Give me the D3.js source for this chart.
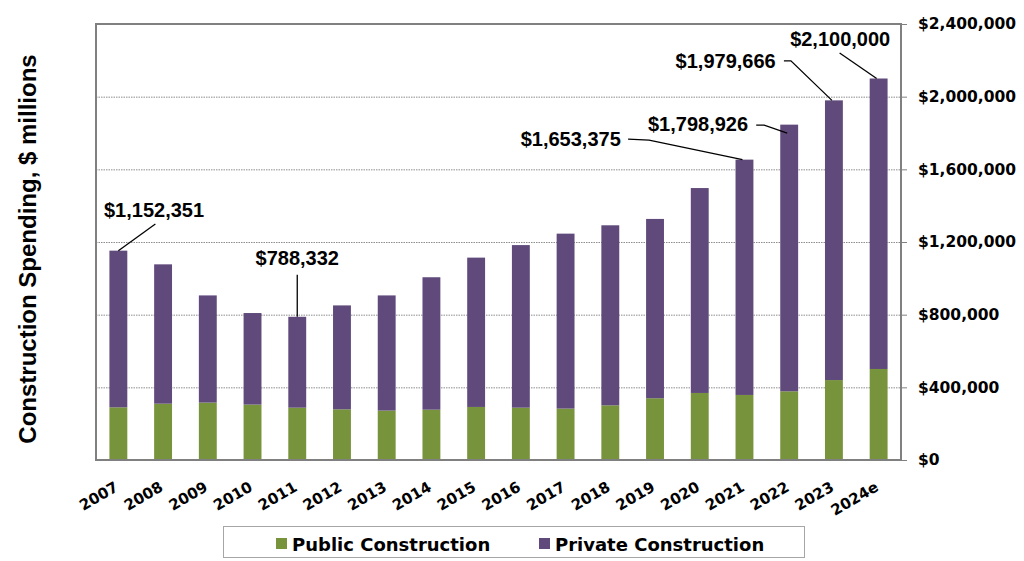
<!DOCTYPE html>
<html>
<head>
<meta charset="utf-8">
<script src="https://cdn.jsdelivr.net/npm/d3@7/dist/d3.min.js"></script>
<style>
  html, body { margin: 0; padding: 0; background: #fff; }
  svg { display: block; }
</style>
</head>
<body>
<svg id="chart" width="1024" height="561"></svg>
<script>
// ---- data ----
const categories = ["2007","2008","2009","2010","2011","2012","2013","2014","2015","2016","2017","2018","2019","2020","2021","2022","2023","2024e"];
const publicValues = [290000, 310000, 316000, 305000, 288000, 279000, 272000, 277000, 292000, 288000, 283000, 301000, 340000, 369000, 358000, 378000, 440000, 501000];
const totalValues  = [1152351, 1077000, 906000, 809000, 788332, 851000, 906000, 1006000, 1114000, 1183000, 1246000, 1292000, 1327000, 1497000, 1653375, 1846000, 1979666, 2100000];
const privateValues = totalValues.map((t, i) => t - publicValues[i]);
const yTicks = [0, 400000, 800000, 1200000, 1600000, 2000000, 2400000];
const seriesNames = ["Public Construction", "Private Construction"];
const annotatedYears = ["2007", "2011", "2021", "2022", "2023", "2024e"];
const annotatedValues = [1152351, 788332, 1653375, 1798926, 1979666, 2100000];

// ---- layout / style ----
const colors = { pub: "#77933C", priv: "#604A7B" };
const plot = { left: 96, right: 901, top: 24, bottom: 460 };
const svg = d3.select("#chart");

const x = d3.scaleBand().domain(categories).range([plot.left, plot.right]).paddingInner(0.6).paddingOuter(0.3);
const y = d3.scaleLinear().domain([0, 2400000]).range([plot.bottom, plot.top]);

// gridlines
svg.append("g").selectAll("line").data(yTicks.filter(d => d > 0 && d < 2400000)).join("line")
  .attr("x1", plot.left).attr("x2", plot.right)
  .attr("y1", d => y(d) + 0.5).attr("y2", d => y(d) + 0.5)
  .attr("stroke", "#8c8c8c").attr("stroke-width", 1).attr("stroke-dasharray", "1.5,1");

// bars
const bars = svg.append("g");
bars.selectAll("rect.pub").data(categories).join("rect").attr("class", "pub")
  .attr("x", d => x(d)).attr("width", x.bandwidth())
  .attr("y", (d, i) => y(publicValues[i])).attr("height", (d, i) => y(0) - y(publicValues[i]))
  .attr("fill", colors.pub);
bars.selectAll("rect.priv").data(categories).join("rect").attr("class", "priv")
  .attr("x", d => x(d)).attr("width", x.bandwidth())
  .attr("y", (d, i) => y(publicValues[i] + privateValues[i])).attr("height", (d, i) => y(publicValues[i]) - y(publicValues[i] + privateValues[i]))
  .attr("fill", colors.priv);

// plot border
svg.append("rect").attr("x", plot.left).attr("y", plot.top)
  .attr("width", plot.right - plot.left).attr("height", plot.bottom - plot.top)
  .attr("fill", "none").attr("stroke", "#808080").attr("stroke-width", 2);

// right axis
const yAxis = d3.axisRight(y).tickValues(yTicks).tickSize(6).tickPadding(11)
  .tickFormat(d => "$" + d3.format(",")(d));
const ya = svg.append("g").attr("transform", `translate(${plot.right},0)`).call(yAxis);
ya.select(".domain").remove();
ya.selectAll(".tick line").attr("stroke", "#808080");
ya.selectAll(".tick text").attr("fill", "#000")
  .style("font-family", "'DejaVu Sans', Verdana, sans-serif").style("font-weight", "bold").style("font-size", "15.5px");

// x axis labels
const xa = svg.append("g");
xa.selectAll("text").data(categories).join("text")
  .attr("transform", d => `translate(${x(d) + x.bandwidth() / 2 + 1},490) rotate(-30)`)
  .attr("text-anchor", "end")
  .style("font-family", "'DejaVu Sans', Verdana, sans-serif").style("font-weight", "bold").style("font-size", "15px")
  .text(d => d);

// y title
svg.append("text")
  .attr("transform", "translate(36,249) rotate(-90)")
  .attr("text-anchor", "middle")
  .style("font-family", "'Liberation Sans', Arial, sans-serif").style("font-weight", "bold").style("font-size", "24px")
  .text("Construction Spending, $ millions");

// annotations (offsets relative to the bar's labelled point)
const annoLayout = [
  { tx: -14.4, ty: -33.7, anchor: "start",  leader: [[37, -26.7], [0, 0]] },
  { tx: 0,     ty: -52,   anchor: "middle", leader: [[0, -42], [0, 0]] },
  { tx: -123.7, ty: -13.6, anchor: "end",   leader: [[-116.4, -20.6], [-95.4, -19.6], [-2, 0]] },
  { tx: -41.1, ty: -1.7,  anchor: "end",    leader: [[-33, -8], [-25, -8], [-2, 0]] },
  { tx: -58.2, ty: -31.9, anchor: "end",    leader: [[-50, -39.5], [-43, -39.5], [-2, 0]] },
  { tx: 11.6,  ty: -32.5, anchor: "end",    leader: [[-39, -25.5], [-2, 0]] }
];
const anno = svg.append("g");
annotatedYears.forEach((yr, i) => {
  const ex = x(yr) + x.bandwidth() / 2;
  const ey = y(annotatedValues[i]);
  const L = annoLayout[i];
  anno.append("path")
    .attr("d", d3.line()(L.leader.map(p => [ex + p[0], ey + p[1]])))
    .attr("fill", "none").attr("stroke", "#000").attr("stroke-width", 1.3);
  anno.append("text")
    .attr("x", ex + L.tx).attr("y", ey + L.ty).attr("text-anchor", L.anchor)
    .style("font-family", "'Liberation Sans', Arial, sans-serif").style("font-weight", "bold").style("font-size", "20px")
    .text("$" + d3.format(",")(annotatedValues[i]));
});

// legend
const lg = svg.append("g");
lg.append("rect").attr("x", 223.5).attr("y", 526.5).attr("width", 581).attr("height", 31)
  .attr("fill", "#fff").attr("stroke", "#a6a6a6").attr("stroke-width", 1);
const legendItems = [
  { name: seriesNames[0], color: colors.pub, sx: 276, tx: 292 },
  { name: seriesNames[1], color: colors.priv, sx: 539, tx: 555 }
];
legendItems.forEach(it => {
  lg.append("rect").attr("x", it.sx).attr("y", 538).attr("width", 11).attr("height", 11).attr("fill", it.color);
  lg.append("text").attr("x", it.tx).attr("y", 550.5)
    .style("font-family", "'DejaVu Sans', Verdana, sans-serif").style("font-weight", "bold").style("font-size", "18px")
    .text(it.name);
});
</script>
</body>
</html>
